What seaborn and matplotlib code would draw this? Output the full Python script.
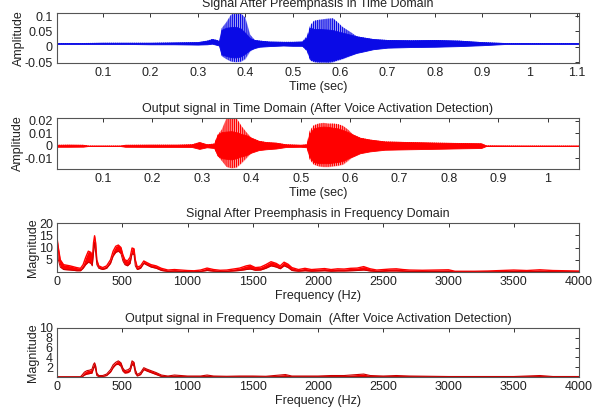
import numpy as np
import matplotlib
matplotlib.use("Agg")
import matplotlib.pyplot as plt
import seaborn as sns

# ---------------- data (envelopes) ----------------
# Plot 1: signal after preemphasis (time domain)
t1 = [0.003, 0.05, 0.10, 0.15, 0.20, 0.25, 0.30, 0.32, 0.33, 0.34, 0.345,
      0.35, 0.36, 0.37, 0.38, 0.39, 0.40, 0.41, 0.42, 0.43, 0.45, 0.48, 0.50,
      0.52, 0.53, 0.537, 0.545, 0.555, 0.565, 0.575, 0.585, 0.595, 0.605,
      0.615, 0.625, 0.635, 0.65, 0.67, 0.70, 0.75, 0.80, 0.85, 0.90, 0.95,
      1.00, 1.05, 1.104]
core_hi1 = [0.012, 0.012, 0.013, 0.013, 0.013, 0.014, 0.015, 0.020, 0.025, 0.022, 0.018,
            0.055, 0.062, 0.064, 0.065, 0.060, 0.045, 0.028, 0.022, 0.020, 0.017, 0.016, 0.016,
            0.017, 0.030, 0.062, 0.058, 0.058, 0.057, 0.056, 0.054, 0.050, 0.046,
            0.042, 0.038, 0.034, 0.030, 0.025, 0.022, 0.021, 0.022, 0.020, 0.015, 0.012,
            0.012, 0.012, 0.012]
core_lo1 = [0.009, 0.009, 0.009, 0.009, 0.008, 0.008, 0.007, 0.008, 0.010, 0.006, 0.004,
            -0.025, -0.030, -0.034, -0.035, -0.032, -0.022, -0.010, -0.004, 0.000, 0.002, 0.004, 0.003,
            0.003, -0.010, -0.040, -0.045, -0.047, -0.047, -0.046, -0.045, -0.040, -0.036,
            -0.030, -0.025, -0.020, -0.015, -0.008, -0.003, -0.001, 0.000, 0.002, 0.005, 0.009,
            0.009, 0.009, 0.009]
spike_hi1 = [0.012, 0.012, 0.013, 0.013, 0.013, 0.014, 0.015, 0.020, 0.025, 0.022, 0.018,
             0.060, 0.080, 0.105, 0.110, 0.110, 0.095, 0.040, 0.022, 0.020, 0.017, 0.016, 0.016,
             0.017, 0.035, 0.070, 0.085, 0.088, 0.090, 0.092, 0.093, 0.080, 0.065,
             0.055, 0.045, 0.034, 0.030, 0.025, 0.022, 0.021, 0.022, 0.020, 0.015, 0.012,
             0.012, 0.012, 0.012]
spike_lo1 = [0.009, 0.009, 0.009, 0.009, 0.008, 0.008, 0.007, 0.008, 0.010, 0.006, 0.004,
             -0.030, -0.040, -0.048, -0.050, -0.049, -0.040, -0.015, -0.004, 0.000, 0.002, 0.004, 0.003,
             0.003, -0.015, -0.045, -0.050, -0.052, -0.052, -0.053, -0.050, -0.045, -0.040,
             -0.034, -0.028, -0.020, -0.015, -0.008, -0.003, -0.001, 0.000, 0.002, 0.005, 0.009,
             0.009, 0.009, 0.009]

# Plot 2: output signal after voice activation detection (time domain)
t2 = [0.007, 0.03, 0.06, 0.07, 0.10, 0.135, 0.145, 0.20, 0.25, 0.28, 0.295, 0.31, 0.325,
      0.332, 0.340, 0.350, 0.360, 0.370, 0.380, 0.390, 0.400, 0.415, 0.43, 0.45, 0.47,
      0.50, 0.512, 0.518, 0.526, 0.536, 0.546, 0.556, 0.566, 0.576, 0.586, 0.596, 0.606,
      0.62, 0.64, 0.67, 0.72, 0.78, 0.83, 0.865, 0.875, 0.95, 1.00, 1.063]
core_hi2 = [0.0008, 0.0009, 0.0008, 0.0002, 0.0002, 0.0002, 0.0008, 0.0009, 0.0009, 0.0012, 0.0030, 0.0012, 0.0018,
            0.0090, 0.0110, 0.0115, 0.0118, 0.0110, 0.0095, 0.0085, 0.0065, 0.0040, 0.0030, 0.0025, 0.0012,
            0.0008, 0.0012, 0.0100, 0.0140, 0.0150, 0.0155, 0.0152, 0.0145, 0.0140, 0.0125, 0.0110, 0.0090,
            0.0065, 0.0050, 0.0035, 0.0030, 0.0025, 0.0022, 0.0020, 0.0003, 0.0002, 0.0002, 0.0002]
core_lo2 = [-0.0008, -0.0008, -0.0007, -0.0002, -0.0002, -0.0002, -0.0008, -0.0009, -0.0009, -0.0010, -0.0025, -0.0012, -0.0018,
            -0.0080, -0.0100, -0.0105, -0.0110, -0.0100, -0.0085, -0.0075, -0.0055, -0.0035, -0.0028, -0.0022, -0.0010,
            -0.0008, -0.0012, -0.0090, -0.0130, -0.0140, -0.0140, -0.0140, -0.0135, -0.0130, -0.0120, -0.0100, -0.0085,
            -0.0060, -0.0045, -0.0032, -0.0028, -0.0024, -0.0020, -0.0018, -0.0002, -0.0002, -0.0002, -0.0002]
spike_hi2 = [0.0008, 0.0009, 0.0008, 0.0002, 0.0002, 0.0002, 0.0008, 0.0009, 0.0009, 0.0012, 0.0030, 0.0012, 0.0018,
             0.0090, 0.0130, 0.0224, 0.0224, 0.0224, 0.0160, 0.0110, 0.0065, 0.0040, 0.0030, 0.0025, 0.0012,
             0.0008, 0.0012, 0.0120, 0.0165, 0.0180, 0.0185, 0.0180, 0.0180, 0.0175, 0.0160, 0.0130, 0.0090,
             0.0065, 0.0050, 0.0035, 0.0030, 0.0025, 0.0022, 0.0020, 0.0003, 0.0002, 0.0002, 0.0002]
spike_lo2 = [-0.0008, -0.0008, -0.0007, -0.0002, -0.0002, -0.0002, -0.0008, -0.0009, -0.0009, -0.0010, -0.0025, -0.0012, -0.0018,
             -0.0080, -0.0120, -0.0170, -0.0180, -0.0175, -0.0140, -0.0100, -0.0055, -0.0035, -0.0028, -0.0022, -0.0010,
             -0.0008, -0.0012, -0.0110, -0.0150, -0.0165, -0.0170, -0.0170, -0.0165, -0.0160, -0.0150, -0.0120, -0.0085,
             -0.0060, -0.0045, -0.0032, -0.0028, -0.0024, -0.0020, -0.0018, -0.0002, -0.0002, -0.0002, -0.0002]

# Plot 3: spectrum after preemphasis
f3 = [0, 10, 25, 50, 100, 150, 180, 200, 220, 240, 260, 270, 280, 288, 296, 305, 320, 350,
      380, 410, 430, 450, 470, 490, 505, 520, 540, 560, 575, 590, 600, 615, 640, 665, 690,
      720, 760, 800, 850, 900, 950, 1000, 1050, 1100, 1150, 1200, 1250, 1300, 1350, 1400,
      1450, 1480, 1520, 1560, 1600, 1640, 1680, 1710, 1740, 1770, 1800, 1850, 1900, 1950,
      2000, 2050, 2100, 2150, 2200, 2250, 2300, 2350, 2400, 2450, 2500, 2550, 2600, 2650,
      2700, 2800, 2900, 3000, 3050, 3200, 3300, 3400, 3500, 3600, 3700, 3800, 3900, 4000]
mag_hi3 = [14, 10, 5, 3.0, 2.5, 1.8, 1.5, 3.0, 6.0, 8.5, 8.0, 5.0, 12.0, 14.8, 12.0, 5.0, 2.5, 1.8,
           2.5, 5.0, 8.5, 10.5, 11.0, 10.0, 7.0, 5.0, 4.5, 6.0, 9.8, 9.5, 5.0, 2.0, 2.5, 4.5, 3.8,
           3.0, 2.5, 1.5, 0.8, 1.0, 0.8, 0.6, 0.5, 0.8, 1.6, 1.0, 0.7, 0.8, 1.2, 1.6,
           2.5, 2.8, 1.8, 2.0, 3.0, 4.2, 3.5, 2.5, 4.0, 3.2, 1.8, 1.0, 1.5, 1.0,
           1.2, 1.4, 1.0, 1.3, 1.2, 1.5, 1.6, 2.2, 1.3, 0.8, 1.0, 1.2, 1.3, 1.0,
           0.8, 0.7, 0.8, 0.9, 0.3, 0.3, 0.4, 0.6, 0.8, 0.6, 0.9, 0.6, 0.5, 0.4]
mag_lo3 = [11, 5, 2, 1.0, 0.8, 0.5, 0.5, 1.5, 3.0, 4.0, 3.5, 2.5, 8.0, 12.0, 8.0, 3.0, 1.5, 1.0,
           1.5, 3.5, 6.5, 8.0, 8.5, 7.5, 4.5, 3.0, 2.5, 3.5, 7.5, 7.0, 2.5, 1.0, 1.5, 3.5, 2.8,
           2.0, 1.5, 0.6, 0.2, 0.3, 0.2, 0.1, 0.1, 0.2, 0.6, 0.3, 0.2, 0.2, 0.4, 0.6,
           1.0, 1.2, 0.7, 0.8, 1.5, 2.5, 2.0, 1.3, 2.5, 1.8, 0.6, 0.3, 0.5, 0.3,
           0.4, 0.5, 0.3, 0.4, 0.4, 0.5, 0.6, 0.8, 0.4, 0.2, 0.3, 0.4, 0.4, 0.3,
           0.2, 0.2, 0.2, 0.2, 0.0, 0.0, 0.1, 0.1, 0.2, 0.1, 0.2, 0.1, 0.1, 0.1]

# Plot 4: spectrum after voice activation detection
f4 = [0, 180, 195, 210, 230, 250, 268, 280, 288, 296, 305, 320, 350, 380, 410, 430, 450, 470,
      490, 505, 520, 545, 560, 575, 590, 600, 615, 640, 665, 690, 720, 760, 800, 850, 900,
      950, 1000, 1100, 1150, 1200, 1300, 1400, 1500, 1600, 1750, 1800, 2000, 2100, 2200,
      2350, 2400, 2500, 2600, 2700, 3000, 3500, 3700, 3800, 4000]
mag_hi4 = [0.05, 0.05, 0.5, 1.0, 1.3, 1.4, 1.6, 2.6, 2.9, 2.3, 0.8, 0.3, 0.3, 0.6, 1.5, 2.5, 3.0, 3.3,
           2.9, 1.8, 1.3, 1.5, 1.8, 3.3, 3.0, 1.5, 0.5, 0.9, 1.9, 1.6, 1.3, 0.9, 0.4, 0.2, 0.4,
           0.3, 0.2, 0.2, 0.4, 0.2, 0.15, 0.2, 0.2, 0.15, 0.5, 0.2, 0.2, 0.3, 0.3,
           0.6, 0.3, 0.2, 0.3, 0.2, 0.1, 0.1, 0.3, 0.1, 0.1]
mag_lo4 = [0.0, 0.0, 0.1, 0.4, 0.6, 0.7, 0.8, 1.8, 2.3, 1.5, 0.3, 0.1, 0.1, 0.3, 1.0, 1.9, 2.5, 2.6,
           2.2, 1.2, 0.8, 0.9, 1.2, 2.6, 2.2, 0.8, 0.2, 0.5, 1.5, 1.2, 0.9, 0.5, 0.1, 0.05, 0.1,
           0.05, 0.05, 0.05, 0.1, 0.05, 0.03, 0.05, 0.05, 0.03, 0.1, 0.05, 0.05, 0.05, 0.05,
           0.1, 0.05, 0.05, 0.05, 0.05, 0.02, 0.02, 0.05, 0.02, 0.02]

titles = ["Signal After Preemphasis in Time Domain",
          "Output signal in Time Domain (After Voice Activation Detection)",
          "Signal After Preemphasis in Frequency Domain",
          "Output signal in Frequency Domain  (After Voice Activation Detection)"]
xlabels = ["Time (sec)", "Time (sec)", "Frequency (Hz)", "Frequency (Hz)"]
ylabels = ["Amplitude", "Amplitude", "Magnitude", "Magnitude"]
xticks1 = [0.1, 0.2, 0.3, 0.4, 0.5, 0.6, 0.7, 0.8, 0.9, 1.0, 1.1]
xtlab1 = ["0.1", "0.2", "0.3", "0.4", "0.5", "0.6", "0.7", "0.8", "0.9", "1", "1.1"]
yticks1 = [-0.05, 0, 0.05, 0.1]
ytlab1 = ["-0.05", "0", "0.05", "0.1"]
xticks2 = [0.1, 0.2, 0.3, 0.4, 0.5, 0.6, 0.7, 0.8, 0.9, 1.0]
xtlab2 = ["0.1", "0.2", "0.3", "0.4", "0.5", "0.6", "0.7", "0.8", "0.9", "1"]
yticks2 = [-0.01, 0, 0.01, 0.02]
ytlab2 = ["-0.01", "0", "0.01", "0.02"]
xticksf = [0, 500, 1000, 1500, 2000, 2500, 3000, 3500, 4000]
yticks3 = [5, 10, 15, 20]
yticks4 = [2, 4, 6, 8, 10]

# ---------------- style ----------------
sns.set_theme(style="white")
plt.rcParams["font.family"] = ["Liberation Sans", "DejaVu Sans"]
plt.rcParams["font.size"] = 9
plt.rcParams["axes.edgecolor"] = "#555555"
plt.rcParams["axes.linewidth"] = 0.8
plt.rcParams["hatch.linewidth"] = 0.9

FS = 9
fig = plt.figure(figsize=(5.92, 4.11), dpi=100)
W = 592.0
H = 411.0
boxes = [(57, 13, 579, 63), (57, 118, 579, 169), (57, 223, 579, 272), (57, 328, 579, 377)]
axes = []
for (x0, y0, x1, y1) in boxes:
    axes.append(fig.add_axes([x0 / W, 1 - y1 / H, (x1 - x0) / W, (y1 - y0) / H]))

BLUE = "#0a0ae6"
RED = "#ff0000"
DRED = "#c80000"

# Plot 1
ax = axes[0]
ax.fill_between(t1, spike_lo1, spike_hi1, color=BLUE, alpha=0.25, linewidth=0)
ax.fill_between(t1, spike_lo1, spike_hi1, facecolor="none", edgecolor=BLUE,
                hatch="||||||||", linewidth=0)
ax.fill_between(t1, core_lo1, core_hi1, color=BLUE, linewidth=0.6, edgecolor=BLUE)
ax.set_xlim(0.003, 1.104)
ax.set_ylim(-0.053, 0.11)
ax.set_xticks(xticks1, xtlab1)
ax.set_yticks(yticks1, ytlab1)

# Plot 2
ax = axes[1]
ax.fill_between(t2, spike_lo2, spike_hi2, color=RED, alpha=0.25, linewidth=0)
ax.fill_between(t2, spike_lo2, spike_hi2, facecolor="none", edgecolor=RED,
                hatch="||||||||", linewidth=0)
ax.fill_between(t2, core_lo2, core_hi2, color=RED, linewidth=0.6, edgecolor=RED)
sns.lineplot(x=[t2[0], t2[-1]], y=[0, 0], ax=ax, color=RED, linewidth=0.6)
ax.set_xlim(0.007, 1.063)
ax.set_ylim(-0.0187, 0.0224)
ax.set_xticks(xticks2, xtlab2)
ax.set_yticks(yticks2, ytlab2)

# Plot 3
ax = axes[2]
ax.fill_between(f3, mag_lo3, mag_hi3, color=RED, linewidth=0)
sns.lineplot(x=f3, y=mag_hi3, ax=ax, color=RED, linewidth=1.0)
sns.lineplot(x=f3, y=mag_lo3, ax=ax, color=DRED, linewidth=0.7)
ax.set_xlim(0, 4000)
ax.set_ylim(0, 20)
ax.set_xticks(xticksf, [str(v) for v in xticksf])
ax.set_yticks(yticks3, [str(v) for v in yticks3])

# Plot 4
ax = axes[3]
ax.fill_between(f4, mag_lo4, mag_hi4, color=RED, linewidth=0)
sns.lineplot(x=f4, y=mag_hi4, ax=ax, color=DRED, linewidth=0.8)
sns.lineplot(x=f4, y=mag_lo4, ax=ax, color=DRED, linewidth=0.8)
ax.set_xlim(0, 4000)
ax.set_ylim(0, 10)
ax.set_xticks(xticksf, [str(v) for v in xticksf])
ax.set_yticks(yticks4, [str(v) for v in yticks4])

for i, ax in enumerate(axes):
    ax.set_title(titles[i], fontsize=FS, pad=4, color="#222222")
    ax.set_xlabel(xlabels[i], fontsize=FS, labelpad=1, color="#222222")
    ax.set_ylabel(ylabels[i], fontsize=FS, labelpad=0, color="#222222")
    ax.tick_params(direction="in", length=3, width=0.7, top=True, right=True,
                   labelsize=FS, pad=3, colors="#333333", labelcolor="#222222")
    for s in ax.spines.values():
        s.set_visible(True)
        s.set_color("#555555")

fig.savefig("out.png", dpi=100, facecolor="white")
